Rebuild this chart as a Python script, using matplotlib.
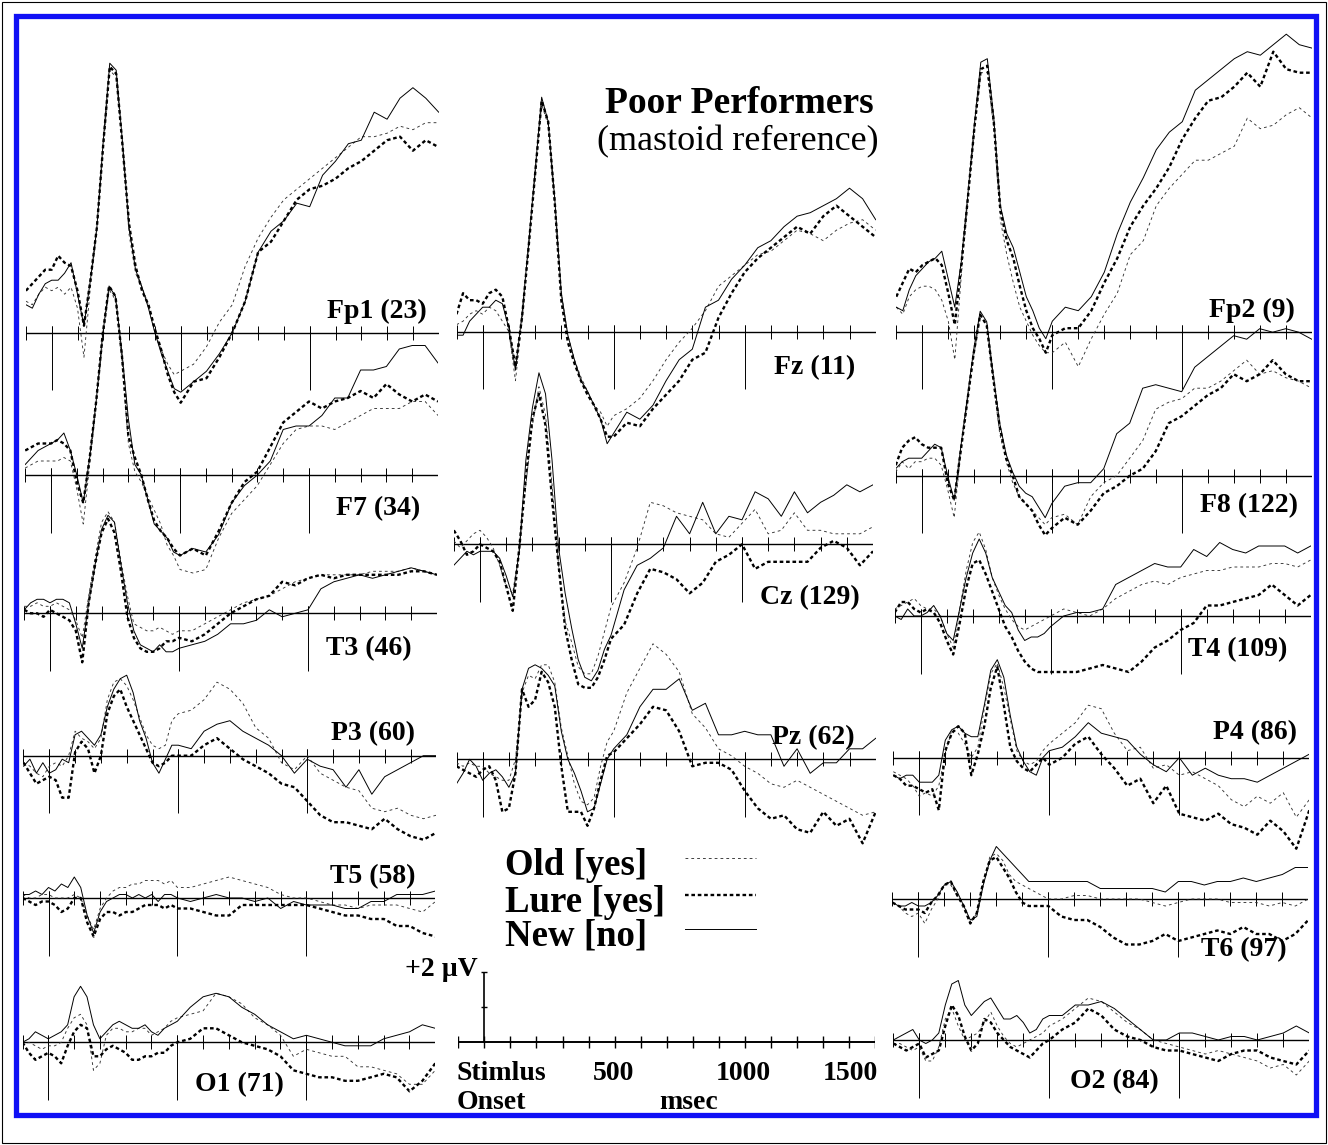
import matplotlib
matplotlib.use('Agg')
import matplotlib.pyplot as plt
from matplotlib.lines import Line2D
from matplotlib.patches import Rectangle

plt.rcParams['font.family'] = ['Liberation Serif', 'DejaVu Serif']
plt.rcParams['lines.scale_dashes'] = False

W, H = 1328, 1145
PX_PER_UV = 35.0   # vertical gain, from the +2 uV calibration bar

# sample times (ms)
t = [-100, -75, -50, -25, 0, 25, 50, 75, 100, 125, 150, 175, 200, 225, 250,
     275, 300, 325, 350, 375, 400, 425, 450, 475, 500, 550, 600, 650, 700, 750,
     800, 850, 900, 950, 1000, 1050, 1100, 1150, 1200, 1250, 1300, 1350, 1400, 1450, 1500]

# ---- ERP amplitudes (uV): old / lure / new ----
fp1_old = [0.9, 0.8, 1.1, 1.3, 1.2, 1.3, 1.1, 1.3, 0.7, -0.7, 1.3, 3.0, 5.3, 7.5, 7.3,
           5.3, 2.8, 1.7, 1.3, 0.8, 0.0, -0.5, -0.9, -1.2, -1.1, -0.9, -0.4, 0.3, 0.8, 1.9,
           2.7, 3.3, 3.8, 4.1, 4.4, 4.7, 5.0, 5.3, 5.6, 5.6, 5.7, 5.9, 5.8, 6.0, 6.0]
fp1_lure = [1.2, 1.4, 1.6, 1.8, 1.8, 2.2, 2.0, 1.9, 1.2, 0.2, 1.5, 3.0, 5.4, 7.6, 7.4,
            5.3, 3.1, 1.9, 1.2, 0.8, 0.1, -0.5, -1.2, -1.7, -2.0, -1.4, -1.3, -0.7, 0.0, 0.9,
            2.3, 2.6, 3.2, 3.8, 4.1, 4.2, 4.4, 4.7, 4.9, 5.2, 5.5, 5.6, 5.2, 5.5, 5.3]
fp1_new = [0.8, 0.7, 1.1, 1.4, 1.5, 1.5, 1.7, 2.0, 1.1, 0.2, 1.5, 3.0, 5.5, 7.7, 7.5,
           5.4, 3.0, 1.8, 1.3, 0.7, 0.0, -0.6, -1.1, -1.6, -1.7, -1.4, -1.1, -0.6, 0.0, 0.9,
           2.3, 2.9, 3.2, 3.7, 3.6, 4.5, 4.9, 5.4, 5.5, 6.3, 6.1, 6.7, 7.0, 6.7, 6.3]

f7_old = [0.2, 0.3, 0.4, 0.4, 0.4, 0.4, 0.5, 0.4, -0.4, -1.4, 0.3, 2.0, 3.8, 5.3, 5.0,
          3.3, 0.9, 0.1, -0.2, -0.6, -1.0, -1.4, -2.0, -2.3, -2.7, -2.8, -2.7, -1.8, -1.1, -0.7,
          -0.3, 0.3, 0.9, 1.3, 1.4, 1.4, 1.3, 1.5, 1.7, 1.9, 1.9, 1.9, 2.1, 2.1, 1.7]
f7_lure = [0.7, 0.8, 0.9, 0.9, 0.9, 1.0, 0.9, 0.7, -0.2, -0.8, 0.5, 2.1, 4.0, 5.4, 5.1,
           3.4, 1.1, 0.5, 0.0, -0.7, -1.3, -1.6, -1.8, -2.1, -2.3, -2.1, -2.3, -1.6, -0.8, -0.2,
           0.1, 0.8, 1.5, 1.8, 2.1, 1.9, 2.1, 2.2, 2.4, 2.2, 2.6, 2.3, 2.1, 2.3, 2.1]
f7_new = [0.3, 0.5, 0.7, 0.8, 0.9, 1.0, 1.2, 0.7, 0.0, -0.8, 0.5, 2.1, 4.0, 5.4, 5.1,
          3.5, 1.6, 0.3, 0.0, -0.7, -1.4, -1.6, -1.8, -2.2, -2.3, -2.1, -2.2, -1.7, -0.8, -0.3,
          0.0, 0.4, 1.3, 1.4, 1.4, 1.7, 2.2, 2.2, 3.0, 3.0, 3.1, 3.6, 3.7, 3.7, 3.2]

t3_old = [0.2, 0.2, 0.3, 0.2, 0.2, 0.3, 0.2, 0.1, -0.2, -0.7, 0.5, 1.6, 2.6, 2.9, 2.6,
          1.5, 0.5, -0.3, -0.4, -0.5, -0.5, -0.4, -0.5, -0.6, -0.5, -0.5, -0.3, -0.1, 0.1, 0.3,
          0.4, 0.5, 0.7, 0.9, 1.0, 1.1, 1.1, 1.1, 1.1, 1.2, 1.2, 1.2, 1.3, 1.2, 1.1]
t3_lure = [0.1, 0.0, 0.0, -0.1, 0.1, 0.0, -0.1, -0.2, -0.5, -1.4, 0.3, 1.4, 2.3, 2.7, 2.3,
           1.2, -0.1, -0.7, -1.0, -1.1, -1.1, -1.0, -0.8, -0.8, -0.7, -0.8, -0.6, -0.3, 0.0, 0.2,
           0.4, 0.5, 0.9, 0.8, 1.0, 1.1, 1.0, 1.1, 1.1, 1.1, 1.1, 1.1, 1.2, 1.2, 1.1]
t3_new = [0.1, 0.3, 0.4, 0.4, 0.3, 0.4, 0.4, 0.3, -0.3, -1.0, 0.3, 1.4, 2.4, 2.8, 2.6,
          1.4, 0.3, -0.5, -0.9, -1.0, -1.1, -0.9, -1.1, -1.1, -1.0, -0.9, -0.8, -0.6, -0.3, -0.3,
          -0.2, 0.1, -0.1, 0.0, 0.1, 0.7, 0.9, 1.0, 1.1, 1.0, 1.1, 1.2, 1.3, 1.2, 1.1]

p3_old = [-0.2, -0.3, -0.5, -0.6, -0.3, -0.2, -0.3, 0.0, 0.7, 0.5, 0.4, 0.2, 0.5, 1.6, 2.1,
          2.2, 2.0, 1.6, 1.1, 0.6, 0.3, 0.2, 0.3, 1.0, 1.2, 1.3, 1.6, 2.1, 1.9, 1.5,
          0.8, 0.5, -0.2, -0.4, 0.0, -0.5, -0.7, -0.9, -1.0, -1.5, -1.6, -1.5, -1.7, -1.8, -1.7]
p3_lure = [-0.2, -0.5, -0.8, -0.7, -0.6, -0.7, -1.2, -1.2, 0.1, 0.4, 0.2, -0.5, 0.0, 1.2, 1.7,
           1.9, 1.4, 1.0, 0.6, 0.2, -0.2, -0.3, -0.2, 0.0, 0.0, 0.0, 0.3, 0.5, 0.2, -0.1,
           -0.3, -0.5, -0.8, -0.9, -1.3, -1.7, -1.9, -1.9, -2.0, -2.1, -1.8, -2.1, -2.3, -2.4, -2.2]
p3_new = [-0.3, -0.1, -0.5, -0.2, -0.5, -0.4, -0.1, -0.2, 0.6, 0.7, 0.5, 0.3, 0.6, 1.4, 1.9,
          2.2, 2.3, 1.8, 1.0, 0.5, -0.2, -0.5, -0.1, 0.3, 0.3, 0.2, 0.7, 0.9, 1.0, 0.7,
          0.5, 0.3, 0.0, -0.5, -0.1, -0.3, -0.4, -0.9, -0.4, -1.1, -0.6, -0.4, -0.2, 0.0, 0.0]

t5_old = [0.1, 0.0, 0.0, 0.1, 0.1, 0.0, 0.0, 0.0, 0.1, 0.0, -0.5, -0.9, -0.3, 0.0, 0.2,
          0.3, 0.3, 0.4, 0.4, 0.5, 0.5, 0.5, 0.4, 0.5, 0.3, 0.3, 0.4, 0.5, 0.6, 0.5,
          0.4, 0.3, 0.1, 0.0, 0.0, -0.1, -0.2, -0.2, -0.3, -0.2, -0.2, -0.2, -0.3, -0.4, -0.1]
t5_lure = [0.0, -0.1, -0.2, -0.1, -0.1, -0.2, -0.4, -0.3, 0.0, 0.0, -0.7, -1.1, -0.6, -0.4, -0.4,
           -0.5, -0.4, -0.4, -0.3, -0.2, -0.2, -0.2, -0.3, -0.2, -0.3, -0.3, -0.4, -0.5, -0.5, -0.2,
           -0.2, -0.2, -0.2, -0.2, -0.2, -0.3, -0.4, -0.5, -0.5, -0.6, -0.6, -0.8, -0.8, -1.0, -1.1]
t5_new = [0.1, 0.1, 0.2, 0.1, 0.3, 0.2, 0.4, 0.3, 0.6, 0.3, -0.5, -1.0, -0.4, -0.1, 0.0,
          0.1, 0.1, 0.0, 0.1, 0.0, 0.1, -0.1, 0.1, 0.1, 0.0, -0.1, 0.0, 0.1, 0.0, 0.0,
          -0.1, 0.0, -0.3, -0.1, -0.2, -0.2, -0.2, -0.3, -0.3, -0.1, -0.1, 0.1, 0.1, 0.1, 0.2]

o1_old = [-0.1, 0.0, -0.1, -0.2, -0.1, -0.1, 0.0, 0.4, 0.7, 0.8, 0.5, -0.8, -0.6, 0.2, 0.4,
          0.4, 0.3, 0.3, 0.4, 0.4, 0.2, 0.3, 0.4, 0.6, 0.7, 0.8, 0.9, 1.4, 1.3, 1.1,
          0.7, 0.5, 0.2, -0.4, -0.2, -0.3, -0.4, -0.4, -0.7, -0.7, -0.8, -0.9, -1.2, -1.2, -0.8]
o1_lure = [0.0, -0.3, -0.5, -0.4, -0.3, -0.4, -0.6, -0.1, 0.3, 0.5, 0.4, -0.4, -0.4, -0.2, -0.1,
           -0.2, -0.3, -0.5, -0.5, -0.4, -0.4, -0.3, -0.3, -0.1, 0.0, 0.1, 0.4, 0.4, 0.2, 0.0,
           -0.1, -0.2, -0.4, -0.8, -0.9, -1.0, -1.0, -1.1, -1.1, -1.0, -0.9, -1.0, -1.4, -1.1, -0.6]
o1_new = [0.0, 0.1, 0.3, 0.2, 0.1, 0.2, 0.3, 0.5, 1.3, 1.6, 1.3, 0.5, 0.1, 0.3, 0.5,
          0.6, 0.5, 0.4, 0.4, 0.5, 0.3, 0.2, 0.4, 0.5, 0.6, 1.0, 1.3, 1.4, 1.3, 1.0,
          0.8, 0.5, 0.3, 0.1, 0.2, 0.1, 0.0, -0.1, -0.1, -0.1, 0.1, 0.2, 0.3, 0.5, 0.4]

fz_old = [0.2, 0.3, 0.5, 0.6, 0.5, 0.7, 0.6, 0.3, 0.0, -1.4, 0.3, 2.4, 4.5, 6.5, 5.9,
          3.6, 1.1, -0.1, -0.8, -1.3, -1.7, -2.1, -2.3, -2.7, -2.4, -2.2, -1.9, -1.4, -0.8, -0.3,
          0.1, 0.6, 1.3, 1.6, 1.9, 2.2, 2.3, 2.6, 2.9, 2.8, 2.6, 2.9, 3.1, 3.2, 2.9]
fz_lure = [0.5, 1.1, 0.9, 0.9, 0.8, 1.1, 1.2, 1.0, 0.1, -1.0, 0.4, 2.4, 4.5, 6.6, 6.0,
           3.7, 0.9, -0.3, -0.9, -1.4, -1.8, -2.1, -2.5, -3.0, -3.0, -2.6, -2.7, -2.2, -1.8, -1.4,
           -0.8, -0.6, 0.4, 1.1, 1.7, 2.1, 2.4, 2.7, 3.0, 2.8, 3.3, 3.6, 3.3, 3.0, 2.7]
fz_new = [-0.1, -0.1, 0.3, 0.5, 0.7, 0.7, 0.9, 0.8, 0.1, -1.1, 0.5, 2.5, 4.6, 6.7, 6.0,
          3.8, 1.1, -0.1, -0.8, -1.4, -1.7, -2.1, -2.5, -3.2, -2.9, -2.3, -2.5, -2.1, -1.4, -0.8,
          -0.5, 0.7, 0.9, 1.5, 1.9, 2.4, 2.6, 3.0, 3.3, 3.4, 3.6, 3.8, 4.1, 3.8, 3.2]

cz_old = [0.1, -0.1, 0.1, 0.3, 0.4, 0.2, -0.1, -0.6, -1.2, -1.4, -0.1, 1.7, 3.4, 4.5, 3.7,
          1.7, -0.6, -2.2, -2.8, -3.5, -3.7, -3.7, -3.2, -2.5, -1.8, -1.1, -0.1, 1.2, 1.1, 0.9,
          0.8, 0.7, 0.3, 0.2, 0.6, 1.0, 0.3, 0.4, 0.9, 0.4, 0.4, 0.3, 0.3, 0.3, 0.5]
cz_lure = [0.4, 0.1, -0.3, -0.2, 0.0, -0.1, -0.2, -0.5, -1.2, -1.9, -0.1, 1.9, 3.6, 4.3, 3.4,
           1.3, -0.6, -2.4, -3.3, -4.0, -4.1, -4.1, -3.8, -3.3, -2.7, -2.3, -1.4, -0.7, -0.8, -1.0,
           -1.4, -1.1, -0.5, -0.3, 0.0, -0.7, -0.5, -0.5, -0.5, -0.5, -0.1, 0.1, -0.1, -0.6, -0.2]
cz_new = [-0.6, -0.4, -0.2, -0.3, -0.2, -0.2, -0.2, -0.4, -0.9, -1.5, -0.2, 2.4, 3.9, 4.9, 4.3,
          2.4, -0.1, -1.4, -2.4, -3.3, -3.8, -3.9, -3.6, -3.0, -2.6, -1.3, -0.6, -0.4, -0.1, 0.8,
          0.3, 1.2, 0.3, 0.8, 0.7, 1.5, 1.3, 0.8, 1.5, 0.9, 1.2, 1.4, 1.7, 1.5, 1.7]

pz_old = [-0.1, -0.2, -0.1, -0.2, -0.2, -0.4, -0.5, -0.6, -0.6, 0.0, 1.9, 2.4, 2.3, 2.7, 2.7,
          2.2, 0.9, 0.1, -0.7, -1.2, -1.3, -1.1, -0.2, 0.5, 0.8, 1.9, 2.6, 3.3, 3.0, 2.5,
          1.3, 0.9, 0.3, 0.1, -0.2, -0.4, -0.7, -0.8, -0.6, -0.8, -1.0, -1.2, -1.4, -1.6, -1.5]
pz_lure = [-0.2, -0.3, -0.4, -0.5, -0.3, -0.2, -0.6, -1.5, -1.4, -0.4, 2.0, 1.5, 1.7, 2.5, 2.2,
           1.5, -0.2, -1.5, -1.5, -1.5, -1.9, -1.4, -0.6, 0.1, 0.2, 0.6, 1.0, 1.5, 1.4, 0.8,
           -0.2, -0.1, -0.1, -0.3, -0.9, -1.4, -1.7, -1.6, -2.0, -2.1, -1.5, -1.9, -1.7, -2.4, -1.5]
pz_new = [-0.7, -0.4, 0.0, -0.2, -0.6, -0.4, -0.3, -0.5, -0.8, -0.4, 2.0, 2.6, 2.7, 2.6, 2.4,
          2.1, 0.8, 0.0, -0.4, -0.9, -1.5, -1.4, -0.7, 0.0, 0.3, 0.7, 1.5, 2.0, 2.0, 2.3,
          1.4, 1.6, 0.7, 0.7, 0.8, 0.7, 0.7, -0.2, 0.3, -0.4, -0.1, -0.1, 0.3, 0.3, 0.6]

fp2_old = [0.7, 0.5, 1.0, 1.2, 1.3, 1.3, 1.2, 0.9, 0.3, -0.8, 1.6, 3.8, 5.7, 7.4, 7.4,
           5.8, 3.2, 2.2, 1.4, 0.7, 0.3, -0.1, -0.4, -0.6, -0.6, -0.3, -1.0, -0.2, 0.5, 1.1,
           2.2, 2.6, 3.6, 4.1, 4.5, 4.9, 4.9, 5.1, 5.3, 6.1, 5.8, 5.9, 6.2, 6.4, 6.1]
fp2_lure = [1.0, 1.4, 1.8, 1.7, 1.9, 2.0, 2.1, 1.9, 1.1, 0.2, 1.9, 3.8, 5.8, 7.5, 7.6,
            6.0, 3.5, 2.6, 2.1, 1.3, 0.6, 0.1, -0.2, -0.6, -0.1, 0.1, 0.1, 0.6, 1.4, 2.1,
            3.0, 3.6, 4.1, 4.7, 5.5, 6.1, 6.6, 6.7, 7.0, 7.4, 7.0, 8.0, 7.5, 7.4, 7.4]
fp2_new = [0.7, 0.6, 1.2, 1.6, 1.8, 2.0, 2.1, 2.3, 1.5, 0.7, 2.0, 3.9, 5.9, 7.7, 7.8,
           6.1, 3.6, 2.8, 2.4, 1.7, 1.0, 0.6, 0.1, -0.2, 0.3, 0.7, 0.6, 1.0, 1.7, 2.8,
           3.7, 4.4, 5.2, 5.7, 6.0, 6.9, 7.2, 7.5, 7.8, 8.0, 7.9, 8.2, 8.5, 8.2, 8.1]

f8_old = [0.1, 0.4, 0.2, 0.4, 0.4, 0.5, 0.5, 0.3, -0.4, -1.2, 0.7, 2.1, 3.4, 4.6, 4.3,
          2.7, 1.2, 0.4, -0.2, -0.6, -0.8, -1.0, -1.2, -1.4, -1.2, -1.1, -1.4, -0.6, -0.2, 0.0,
          0.5, 1.0, 1.9, 2.1, 2.2, 2.5, 2.5, 2.7, 3.0, 3.3, 2.9, 3.0, 2.8, 2.7, 2.5]
f8_lure = [0.3, 0.8, 1.0, 1.1, 0.9, 0.8, 0.8, 0.8, -0.2, -0.7, 0.7, 2.1, 3.5, 4.6, 4.3,
           2.8, 1.4, 0.5, 0.0, -0.6, -0.8, -1.0, -1.4, -1.7, -1.5, -1.2, -1.4, -1.0, -0.5, -0.3,
           0.0, 0.2, 0.7, 1.5, 1.7, 2.0, 2.3, 2.5, 2.9, 2.7, 2.9, 3.3, 2.9, 2.7, 2.7]
f8_new = [0.2, 0.4, 0.5, 0.5, 0.5, 0.7, 0.9, 0.8, 0.0, -0.7, 0.8, 2.2, 3.6, 4.7, 4.4,
          2.9, 1.5, 0.6, 0.1, -0.3, -0.5, -0.6, -0.9, -1.2, -0.8, -0.3, -0.2, -0.2, 0.2, 1.2,
          1.5, 2.5, 2.6, 2.5, 2.4, 3.1, 3.4, 3.7, 4.0, 3.9, 4.2, 4.1, 4.2, 4.1, 3.9]

t4_old = [0.2, 0.3, 0.4, 0.5, 0.3, 0.2, 0.2, 0.0, -0.5, -0.9, 0.2, 1.3, 2.1, 2.4, 1.9,
          1.1, 0.6, 0.2, -0.1, -0.3, -0.4, -0.3, -0.2, -0.1, 0.0, 0.2, 0.1, 0.0, 0.2, 0.5,
          0.7, 0.9, 1.0, 0.9, 1.1, 1.2, 1.3, 1.3, 1.4, 1.4, 1.4, 1.5, 1.5, 1.4, 1.6]
t4_lure = [0.1, 0.4, 0.4, 0.2, 0.1, 0.2, 0.1, -0.2, -0.7, -1.1, -0.2, 0.8, 1.5, 1.6, 1.2,
           0.7, 0.2, -0.3, -0.6, -1.0, -1.3, -1.5, -1.6, -1.6, -1.6, -1.6, -1.6, -1.5, -1.4, -1.5,
           -1.6, -1.3, -0.9, -0.7, -0.4, -0.2, 0.3, 0.3, 0.4, 0.5, 0.6, 0.9, 0.6, 0.3, 0.6]
t4_new = [0.0, -0.1, 0.2, 0.0, 0.0, 0.1, 0.3, 0.0, -0.5, -0.7, 0.2, 1.1, 1.8, 2.2, 1.8,
          1.1, 0.7, 0.3, 0.1, -0.4, -0.7, -0.6, -0.6, -0.5, -0.3, 0.0, 0.1, 0.1, 0.2, 0.9,
          1.1, 1.3, 1.5, 1.4, 1.4, 1.9, 1.7, 2.1, 1.9, 1.8, 2.0, 2.0, 2.0, 1.8, 2.0]

p4_old = [-0.4, -0.5, -0.6, -0.8, -1.1, -1.0, -1.1, -0.8, 0.1, 0.8, 0.7, 0.4, 0.0, 0.3, 1.4,
          2.4, 2.7, 2.0, 1.1, 0.2, -0.1, -0.2, -0.1, 0.2, 0.4, 0.7, 1.0, 1.5, 1.4, 0.7,
          0.2, 0.3, -0.3, -0.2, -0.5, -0.4, -0.6, -0.8, -1.2, -1.4, -1.1, -1.3, -1.0, -1.7, -1.2]
p4_lure = [-0.5, -0.6, -0.8, -0.8, -0.9, -1.0, -0.9, -1.5, 0.2, 0.7, 0.9, 0.7, -0.5, 0.1, 0.9,
           2.0, 2.6, 1.5, 0.3, -0.1, -0.3, -0.4, -0.2, 0.0, -0.2, 0.0, 0.4, 0.6, 0.1, -0.3,
           -0.8, -0.6, -1.3, -0.8, -1.6, -1.7, -1.8, -1.6, -1.9, -2.0, -2.2, -1.8, -2.1, -2.6, -1.5]
p4_new = [-0.5, -0.6, -0.5, -0.5, -0.7, -0.7, -0.7, -0.5, 0.5, 0.8, 0.9, 0.7, 0.6, 0.6, 1.5,
          2.5, 2.8, 2.3, 1.2, 0.3, -0.1, -0.4, -0.5, 0.0, 0.2, 0.3, 0.6, 1.0, 0.7, 0.6,
          0.5, 0.1, -0.2, -0.4, 0.0, -0.5, -0.3, -0.5, -0.6, -0.6, -0.7, -0.5, -0.3, -0.1, 0.1]

t6_old = [-0.1, -0.2, -0.4, -0.5, -0.4, -0.7, -0.3, 0.0, 0.4, 0.4, 0.1, -0.3, -0.7, -0.4, 0.5,
          1.2, 1.3, 1.1, 0.7, 0.5, 0.4, 0.3, 0.2, 0.1, 0.0, 0.0, 0.1, 0.1, 0.0, 0.0,
          0.0, 0.0, -0.1, -0.2, -0.1, 0.0, 0.0, 0.0, -0.1, -0.1, -0.1, -0.2, -0.1, -0.2, 0.0]
t6_lure = [-0.1, -0.2, -0.3, -0.3, -0.3, -0.4, -0.1, 0.1, 0.4, 0.5, 0.1, -0.2, -0.7, -0.4, 0.5,
           1.1, 1.2, 0.9, 0.6, 0.2, -0.1, -0.2, -0.2, -0.2, -0.2, -0.5, -0.6, -0.6, -0.8, -1.1,
           -1.3, -1.3, -1.2, -1.0, -1.2, -1.1, -1.0, -0.9, -1.0, -0.8, -1.0, -1.0, -1.2, -1.0, -0.6]
t6_new = [-0.1, -0.2, -0.2, -0.1, -0.2, -0.2, -0.1, 0.1, 0.4, 0.5, 0.2, -0.2, -0.6, -0.5, 0.4,
          1.1, 1.5, 1.3, 1.1, 0.9, 0.7, 0.5, 0.5, 0.5, 0.5, 0.5, 0.5, 0.5, 0.3, 0.3,
          0.3, 0.3, 0.3, 0.2, 0.5, 0.5, 0.4, 0.5, 0.5, 0.6, 0.5, 0.6, 0.7, 0.9, 0.9]

o2_old = [-0.1, -0.1, -0.2, -0.3, -0.2, -0.6, -0.6, -0.2, 0.6, 0.9, 0.4, 0.0, 0.1, 0.2, 0.5,
          0.8, 0.4, 0.1, -0.1, -0.2, -0.1, 0.0, 0.1, 0.2, 0.4, 0.6, 0.9, 1.2, 1.1, 0.8,
          0.5, 0.3, 0.0, -0.1, -0.2, -0.3, -0.4, -0.3, -0.4, -0.5, -0.6, -0.8, -0.7, -1.0, -0.6]
o2_lure = [-0.1, -0.2, -0.3, -0.2, -0.1, -0.5, -0.4, -0.3, 0.4, 1.0, 0.7, 0.1, -0.3, -0.1, 0.6,
           0.5, 0.2, 0.0, -0.2, -0.3, -0.4, -0.5, -0.3, -0.1, 0.0, 0.3, 0.5, 0.9, 0.7, 0.3,
           0.1, 0.0, -0.2, -0.3, -0.3, -0.4, -0.5, -0.6, -0.4, -0.3, -0.3, -0.5, -0.6, -0.7, -0.3]
o2_new = [0.0, 0.1, 0.2, 0.3, 0.0, -0.1, 0.0, 0.2, 1.0, 1.6, 1.7, 1.0, 0.7, 0.9, 1.1,
          1.2, 0.9, 0.6, 0.6, 0.7, 0.5, 0.2, 0.3, 0.6, 0.7, 0.7, 1.0, 1.0, 1.1, 0.9,
          0.6, 0.3, 0.0, 0.0, 0.2, 0.2, 0.1, 0.0, 0.1, 0.1, 0.0, 0.1, 0.2, 0.4, 0.2]

conditions = ['Old [yes]', 'Lure [yes]', 'New [no]']
cal_ticks = [0, 500, 1000, 1500]
cal_labels = ['500', '1000', '1500']

# ---- layout (pixel positions of each panel's onset and baseline) ----
LEFT, MID, RIGHT = 0.258, 0.262, 0.260   # px per ms in each column
panels = [
    # label, series, onset x, baseline y, px/ms, label x, label y, align
    ('Fp1 (23)', (fp1_old, fp1_lure, fp1_new), 51.7, 332.7, LEFT, 427, 318, 'right'),
    ('F7 (34)', (f7_old, f7_lure, f7_new), 51.0, 475.0, LEFT, 420, 515, 'right'),
    ('T3 (46)', (t3_old, t3_lure, t3_new), 50.0, 613.3, LEFT, 412, 655, 'right'),
    ('P3 (60)', (p3_old, p3_lure, p3_new), 49.3, 755.7, LEFT, 415, 740, 'right'),
    ('T5 (58)', (t5_old, t5_lure, t5_new), 48.5, 898.0, LEFT, 415, 883, 'right'),
    ('O1 (71)', (o1_old, o1_lure, o1_new), 48.3, 1042.3, LEFT, 195, 1091, 'left'),
    ('Fz (11)', (fz_old, fz_lure, fz_new), 482.7, 331.7, MID, 855, 374, 'right'),
    ('Cz (129)', (cz_old, cz_lure, cz_new), 480.0, 544.3, MID, 860, 604, 'right'),
    ('Pz (62)', (pz_old, pz_lure, pz_new), 482.7, 759.3, MID, 855, 744, 'right'),
    ('Fp2 (9)', (fp2_old, fp2_lure, fp2_new), 922.3, 331.7, RIGHT, 1295, 317, 'right'),
    ('F8 (122)', (f8_old, f8_lure, f8_new), 921.7, 475.7, RIGHT, 1298, 512, 'right'),
    ('T4 (109)', (t4_old, t4_lure, t4_new), 920.7, 616.0, RIGHT, 1287, 656, 'right'),
    ('P4 (86)', (p4_old, p4_lure, p4_new), 919.3, 757.7, RIGHT, 1297, 739, 'right'),
    ('T6 (97)', (t6_old, t6_lure, t6_new), 918.3, 899.0, RIGHT, 1287, 956, 'right'),
    ('O2 (84)', (o2_old, o2_lure, o2_new), 919.3, 1040.0, RIGHT, 1070, 1088, 'left'),
]

styles = [
    dict(color='#333333', lw=0.65, linestyle=(0, (2.0, 2.2))),   # old
    dict(color='black', lw=1.7, linestyle=(0, (2.6, 2.0))),      # lure
    dict(color='black', lw=0.7, linestyle='-'),                  # new
]

fig = plt.figure(figsize=(W / 100, H / 100), dpi=100)
fig.patch.set_facecolor('white')


def fx(x):
    return x / W


def fy(y):
    return 1 - y / H


def panel_axes(onset, base, pxms, lo=-6.0, hi=10.0):
    x0 = onset - 100 * pxms
    x1 = onset + 1500 * pxms
    ax = fig.add_axes([fx(x0), fy(base - lo * PX_PER_UV),
                       (x1 - x0) / W, (hi - lo) * PX_PER_UV / H])
    ax.set_xlim(-100, 1500)
    ax.set_ylim(lo, hi)
    ax.axis('off')
    return ax


for label, series, onset, base, pxms, lx, ly, ha in panels:
    ax = panel_axes(onset, base, pxms)
    ax.axhline(0, color='black', lw=1.0)
    ax.vlines(range(-100, 1501, 100), -0.2, 0.2, color='black', lw=0.7)
    ax.vlines(cal_ticks, -1.65, 0.2, color='black', lw=0.7)
    for vals, st in zip(series, styles):
        ax.plot(t, vals, **st)
    fig.text(fx(lx), fy(ly), label, ha=ha, va='baseline',
             fontsize=20, fontweight='bold')

# calibration axis
cal = panel_axes(484.3, 1041.7, 0.2607)
cal.axhline(0, color='black', lw=1.4)
cal.vlines(range(-100, 1501, 100), -0.17, 0.17, color='black', lw=1.0)
cal.vlines(0, 0, 2, color='black', lw=1.2)
cal.hlines([1, 2], -12, 12, color='black', lw=1.0)
fig.text(fx(478), fy(969), '+2 \u00b5V', ha='right', va='center',
         fontsize=20, fontweight='bold')
fig.text(fx(457), fy(1080), 'Stimlus', ha='left', va='baseline',
         fontsize=20, fontweight='bold')
fig.text(fx(457), fy(1109), 'Onset', ha='left', va='baseline',
         fontsize=20, fontweight='bold')
for x, s in zip([614, 743, 850], cal_labels):
    fig.text(fx(x), fy(1080), s, ha='center', va='baseline',
             fontsize=20, fontweight='bold')
fig.text(fx(689), fy(1109), 'msec', ha='center', va='baseline',
         fontsize=20, fontweight='bold')

# legend
for name, st, y in zip(conditions, styles, [875, 912, 946]):
    fig.text(fx(505), fy(y), name, ha='left', va='baseline',
             fontsize=26.5, fontweight='bold')
    fig.add_artist(Line2D([fx(685), fx(756)], [fy(y - 17), fy(y - 17)],
                          transform=fig.transFigure, **st))

# title
fig.text(fx(739), fy(113), 'Poor Performers', ha='center', va='baseline',
         fontsize=27, fontweight='bold')
fig.text(fx(738), fy(150), '(mastoid reference)', ha='center', va='baseline',
         fontsize=26)

# frames
fig.add_artist(Rectangle((fx(16), fy(1115)), 1300 / W, 1099 / H,
                         transform=fig.transFigure, fill=False,
                         edgecolor='#1010f5', lw=3.8))
fig.add_artist(Rectangle((fx(2), fy(1143)), 1324 / W, 1141 / H,
                         transform=fig.transFigure, fill=False,
                         edgecolor='black', lw=0.8))

fig.savefig('out.png', dpi=100, facecolor='white')
